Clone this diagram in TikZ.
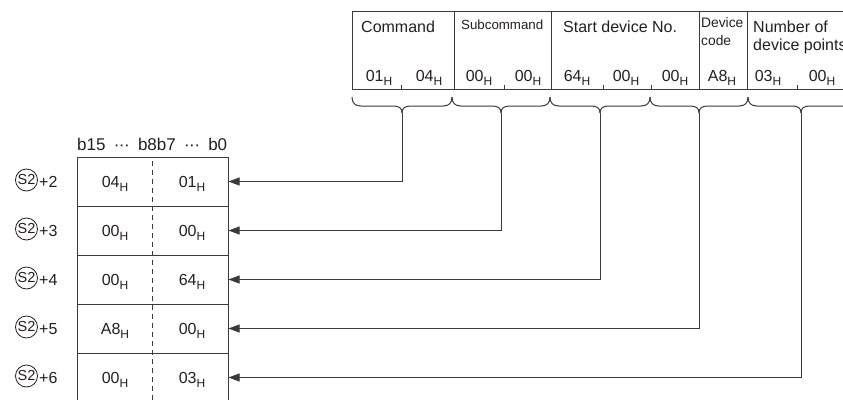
\documentclass[tikz,border=0pt]{standalone}
\usepackage{fontspec}
\setmainfont{Liberation Sans}
\usetikzlibrary{arrows.meta}
\definecolor{ln}{HTML}{3A3A3A}
\definecolor{tx}{HTML}{231F20}
\newcommand\hx[1]{#1\raisebox{-0.3em}{\fontsize{12}{12}\selectfont H}}
\newcommand\mydots{\textperiodcentered\kern-0.5pt\textperiodcentered\kern-0.5pt\textperiodcentered}
\tikzset{
  frame/.style={draw=ln, line width=1pt},
  txt/.style={text=tx, inner sep=0pt, font=\fontsize{16}{18}\selectfont},
  bitsfont/.style={text=tx, inner sep=0pt, font=\fontsize{17}{18}\selectfont},
  tiny/.style={text=tx, inner sep=0pt, font=\fontsize{13.3}{17}\selectfont},
  dtext/.style={text=tx, inner sep=0pt, font=\fontsize{13.8}{17}\selectfont},
  val/.style={txt, anchor=base},
  rowbox/.style={draw=ln, line width=1pt, minimum width=151pt, minimum height=49pt, inner sep=0pt},
  dsh/.style={draw=ln, line width=1pt, dash pattern=on 5pt off 4pt},
  arr/.style={draw=ln, line width=1pt, -{Triangle[length=11pt,width=8pt]}},
  brc/.style={draw=ln, line width=1pt},
  sbox/.style={circle, draw=tx, line width=0.8pt, minimum size=22pt, inner sep=0pt, text=tx, font=\fontsize{14.5}{14.5}\selectfont}
}
\begin{document}
\begin{tikzpicture}[x=1pt,y=-1pt]
\useasboundingbox (0,0) rectangle (843,399);
% top table
\draw[frame] (352,11) rectangle (858,89);
\foreach \x in {454,551,699,747} \draw[frame] (\x,11) -- (\x,89);
\foreach \x in {401,504,603,651,797} \draw[frame] (\x,89) -- (\x,85);
% headers
\node[txt, anchor=base west] (hcmd) at (361,32) {Command};
\node[tiny, anchor=base west] (hsub) at (461,29) {Subcommand};
\node[txt, anchor=base west] (hsdn) at (563,32) {Start device No.};
\node[dtext, anchor=base west] (hdc1) at (701,27) {Device};
\node[dtext, anchor=base west] (hdc2) at (701,45) {code};
\node[txt, anchor=base west] (hnp1) at (753,32) {Number of};
\node[txt, anchor=base west] (hnp2) at (753,50) {device points};
% values
\node[val] (v1) at (379,81) {\hx{01}};
\node[val] (v2) at (429,81) {\hx{04}};
\node[val] (v3) at (479,81) {\hx{00}};
\node[val] (v4) at (528,81) {\hx{00}};
\node[val] (v5) at (577,81) {\hx{64}};
\node[val] (v6) at (626,81) {\hx{00}};
\node[val] (v7) at (675,81) {\hx{00}};
\node[val] (v8) at (722,81) {\hx{A8}};
\node[val] (v9) at (768,81) {\hx{03}};
\node[val] (v10) at (822,81) {\hx{00}};
% braces
\foreach \a/\c/\b/\n in {352/402/452/1,452/501/550/2,550/600/650/3,650/699/748/4,748/801/854/5}{
  \draw[brc] (\a,97) .. controls (\a,103) and (\a+3,106) .. (\a+9,106) -- (\c-9,106)
    .. controls (\c-3,106) and (\c,108) .. (\c,113) coordinate (t\n);
  \draw[brc] (\c,113) .. controls (\c,108) and (\c+3,106) .. (\c+9,106) -- (\b-9,106)
    .. controls (\b-3,106) and (\b,103) .. (\b,97);
}
% bottom table
\node[bitsfont, anchor=base west] (bits) at (77,150) {\makebox[150pt][s]{b15\hfil\mydots\hfil b8b7\hfil\mydots\hfil b0}};
\node[rowbox] (r2) at (152.5,181.5) {};
\node[rowbox] (r3) at (152.5,230.5) {};
\node[rowbox] (r4) at (152.5,279.5) {};
\node[rowbox] (r5) at (152.5,328.5) {};
\node[rowbox] (r6) at (152.5,377.5) {};
\draw[dsh] (152,161) -- (152,402);
\foreach \r/\l/\rr in {2/04/01,3/00/00,4/00/64,5/A8/00,6/00/03}{
  \node[val] (L\r) at (115,157+49*\r-98+30) {\hx{\l}};
  \node[val] (R\r) at (192,157+49*\r-98+30) {\hx{\rr}};
  \node[sbox] (s\r) at (26.5,157+49*\r-98+23) {S2};
  \node[txt, anchor=base west] (p\r) at (39,157+49*\r-98+30) {+\r};
}
% connectors
\draw[arr] (t1) |- (r2.east);
\draw[arr] (t2) |- (r3.east);
\draw[arr] (t3) |- (r4.east);
\draw[arr] (t4) |- (r5.east);
\draw[arr] (t5) |- (r6.east);
\end{tikzpicture}
\end{document}
